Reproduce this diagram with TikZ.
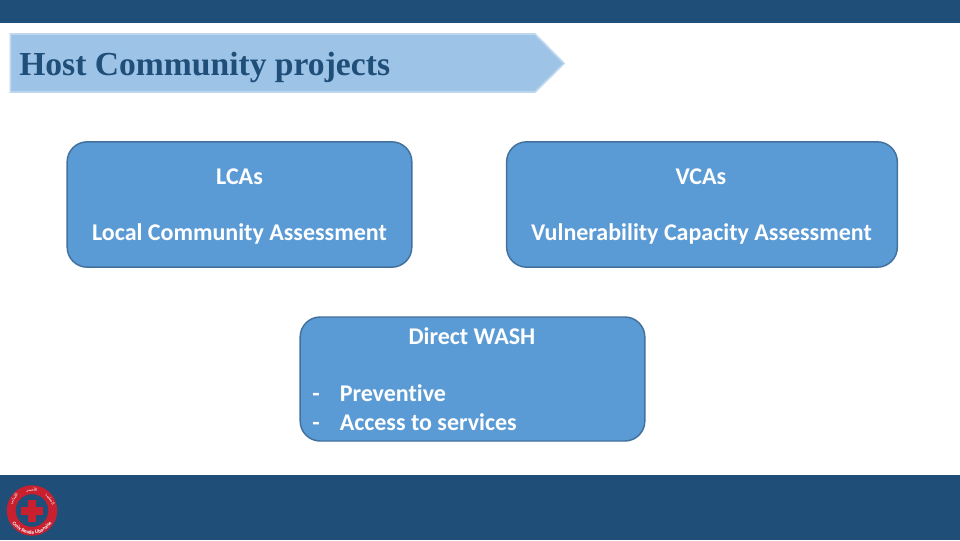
\documentclass[tikz,border=0pt]{standalone}
\usepackage{fontspec}
\setmainfont[Ligatures=CommonOff]{Carlito}
\newfontfamily\titlefont{Liberation Serif}
\newfontfamily\arabicfont[Script=Arabic]{DejaVu Sans}
\TeXXeTstate=1
\usetikzlibrary{calc, positioning, decorations.text}
\definecolor{bandblue}{HTML}{1F4E79}
\definecolor{boxblue}{HTML}{5B9BD5}
\definecolor{boxedge}{HTML}{41719C}
\definecolor{tagblue}{HTML}{9DC3E6}
\definecolor{tagedge}{HTML}{BDD7EE}
\definecolor{logored}{HTML}{C8202F}
\tikzset{
    band/.style={fill=bandblue, draw=none},
    panel/.style={fill=boxblue, draw=boxedge, line width=1.1pt, rounded corners=15pt},
    paneltext/.style={text=white, font=\fontsize{18}{21}\selectfont\bfseries, inner sep=0pt},
    logoword/.style={text=white, font=\arabicfont\fontsize{3.2}{4}\selectfont, inner sep=0pt}
}
\begin{document}
\begin{tikzpicture}[x=0.75pt,y=-0.75pt]
\useasboundingbox (0,0) rectangle (960,540);

% Bands at top and bottom
\fill[band] (0,0) rectangle (960,23);
\fill[band] (0,475) rectangle (960,540);

% Title arrow
\draw[fill=tagblue, draw=tagedge, line width=1.3pt] (10.5,34) -- (535,34) -- (564,63.5) -- (535,92) -- (10.5,92) -- cycle;
\node[anchor=base west, inner sep=0pt, text=bandblue] (title) at (19,75) {\titlefont\fontsize{25.2}{30}\selectfont\textbf{Host Community projects}};

% LCA panel
\node[panel, minimum width=258.5pt, minimum height=94pt, inner sep=0pt] (lca) at (239.5,204.5) {};
\node[paneltext] (lcatop) at (239.5,177) {LCAs};
\node[paneltext] (lcabot) at (239.5,234) {Local Community Assessment};

% VCA panel
\node[panel, minimum width=293pt, minimum height=94pt, inner sep=0pt] (vca) at (702,204.5) {};
\node[paneltext] (vcatop) at (701,177) {VCAs};
\node[paneltext] (vcabot) at (701.5,234) {Vulnerability Capacity Assessment};

% WASH panel
\node[panel, minimum width=258.5pt, minimum height=93pt, inner sep=0pt] (wash) at (472.5,379) {};
\node[paneltext] (washtop) at (472,336.5) {Direct WASH};
\node[paneltext, anchor=base west] (washa) at (312,401) {-};
\node[paneltext, anchor=base west] (washb) at (339.5,401) {Preventive};
\node[paneltext, anchor=base west] (washc) at (312,430) {-};
\node[paneltext, anchor=base west] (washd) at (339.5,430) {Access to services};

% Logo
\coordinate (logo) at (32,510.5);
\draw[logored, line width=6.6pt] (logo) circle (15.6pt);
\fill[logored] ($(logo)+(-4,-11)$) rectangle ($(logo)+(4,11)$);
\fill[logored] ($(logo)+(-11,-4)$) rectangle ($(logo)+(11,4)$);
\path[postaction={decorate}, decoration={text along path, text align=center, text color=white,
    text={|\fontsize{3.9}{4}\selectfont\bfseries|Croix Rouge Libanaise}}]
    ($(logo)+(-23.5,0)$) arc[start angle=180, end angle=360, radius=17.6pt];
\node[logoword, rotate=-58] (wordright) at ($(logo)+(18,-11.5)$) {\beginR الصليب\endR};
\node[logoword] (wordtop) at ($(logo)+(0,-21)$) {\beginR الأحمر\endR};
\node[logoword, rotate=58] (wordleft) at ($(logo)+(-18,-11.5)$) {\beginR اللبناني\endR};
\end{tikzpicture}
\end{document}
